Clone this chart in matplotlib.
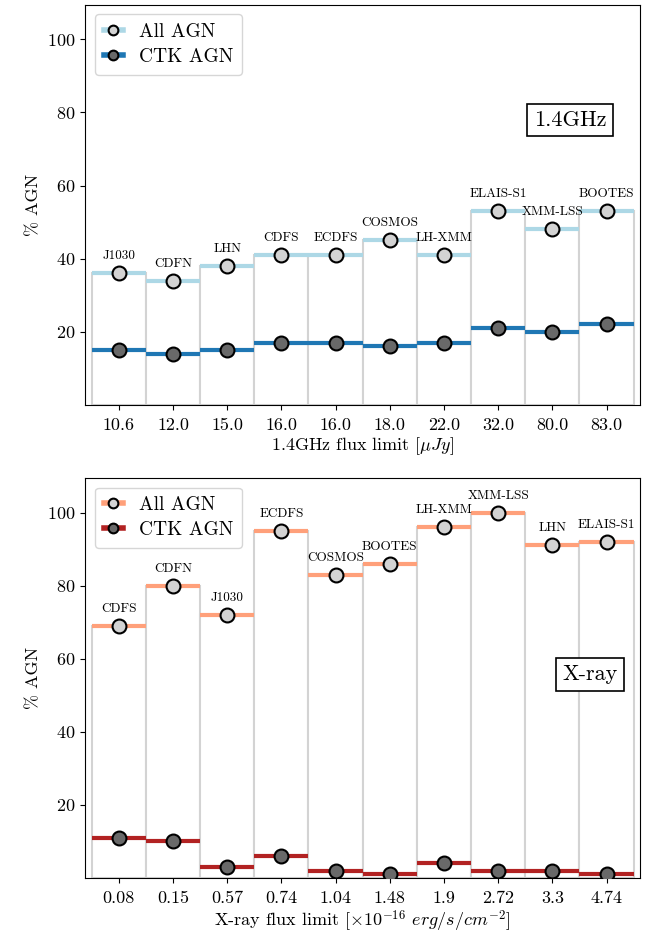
import matplotlib
matplotlib.use("Agg")
import matplotlib.pyplot as plt
import numpy as np

plt.rcParams['font.family'] = 'serif'
plt.rcParams['font.serif'] = ['cmr10']
plt.rcParams['mathtext.fontset'] = 'cm'
plt.rcParams['axes.formatter.use_mathtext'] = True

# 1.4GHz panel
radio_limits = ['10.6', '12.0', '15.0', '16.0', '16.0', '18.0', '22.0', '32.0', '80.0', '83.0']
radio_fields = ['J1030', 'CDFN', 'LHN', 'CDFS', 'ECDFS', 'COSMOS', 'LH-XMM', 'ELAIS-S1', 'XMM-LSS', 'BOOTES']
radio_all = [36, 34, 38, 41, 41, 45, 41, 53, 48, 53]
radio_ctk = [15, 14, 15, 17, 17, 16, 17, 21, 20, 22]

# X-ray panel
xray_limits = ['0.08', '0.15', '0.57', '0.74', '1.04', '1.48', '1.9', '2.72', '3.3', '4.74']
xray_fields = ['CDFS', 'CDFN', 'J1030', 'ECDFS', 'COSMOS', 'BOOTES', 'LH-XMM', 'XMM-LSS', 'LHN', 'ELAIS-S1']
xray_all = [69, 80, 72, 95, 83, 86, 96, 100, 91, 92]
xray_ctk = [11, 10, 3, 6, 2, 1, 4, 2, 2, 1]


def panel(ax, limits, fields, all_agn, ctk_agn, c_all, c_ctk, xlabel, tag, tag_pos):
    x = np.arange(len(limits))
    ax.bar(x, all_agn, width=1.0, color='white', edgecolor='lightgrey', linewidth=1.5, zorder=1)
    ax.hlines(all_agn, x - 0.5, x + 0.5, color=c_all, linewidth=3, zorder=2)
    ax.hlines(ctk_agn, x - 0.5, x + 0.5, color=c_ctk, linewidth=3, zorder=2)
    ax.plot(x, all_agn, 'o', color='lightgrey', mec='black', mew=1.5, ms=10, zorder=3)
    ax.plot(x, ctk_agn, 'o', color='dimgrey', mec='black', mew=1.5, ms=10, zorder=3)
    for xi, v, name in zip(x, all_agn, fields):
        ax.text(xi, v + 3, name, ha='center', va='bottom', fontsize=9.5)

    # legend handles: thick coloured line with the marker on top
    h1, = ax.plot([], [], '-o', color=c_all, lw=4, mfc='lightgrey', mec='black', mew=1.5, ms=7)
    h2, = ax.plot([], [], '-o', color=c_ctk, lw=4, mfc='dimgrey', mec='black', mew=1.5, ms=7)
    ax.legend([h1, h2], ['All AGN', 'CTK AGN'], loc='upper left', fontsize=14,
              handlelength=1.0, borderpad=0.45, labelspacing=0.35, handletextpad=0.8)

    ax.text(tag_pos[0], tag_pos[1], tag, transform=ax.transAxes, fontsize=16, ha='center', va='center',
            bbox=dict(boxstyle='square,pad=0.3', facecolor='white', edgecolor='black', linewidth=1.2))

    ax.set_xticks(x)
    ax.set_xticklabels(limits)
    ax.set_yticks([20, 40, 60, 80, 100])
    ax.tick_params(axis='both', labelsize=13)
    ax.tick_params(axis='x', pad=6)
    ax.set_xlim(-0.62, 9.62)
    ax.set_ylim(0, 109.5)
    ax.set_xlabel(xlabel, fontsize=13, labelpad=1.5)
    ax.set_ylabel('% AGN', fontsize=13)


fig = plt.figure(figsize=(6.71, 9.35), dpi=100)
ax1 = fig.add_axes([0.127, 0.567, 0.827, 0.428])
ax2 = fig.add_axes([0.127, 0.061, 0.827, 0.428])

panel(ax1, radio_limits, radio_fields, radio_all, radio_ctk, 'lightblue', '#1f77b4',
      r'1.4GHz flux limit [$\mu Jy$]', '1.4GHz', (0.874, 0.712))
panel(ax2, xray_limits, xray_fields, xray_all, xray_ctk, 'lightsalmon', 'firebrick',
      r'X-ray flux limit [$\times 10^{-16}$ $erg/s/cm^{-2}$]', 'X-ray', (0.91, 0.508))

fig.savefig('out.png', dpi=100)
